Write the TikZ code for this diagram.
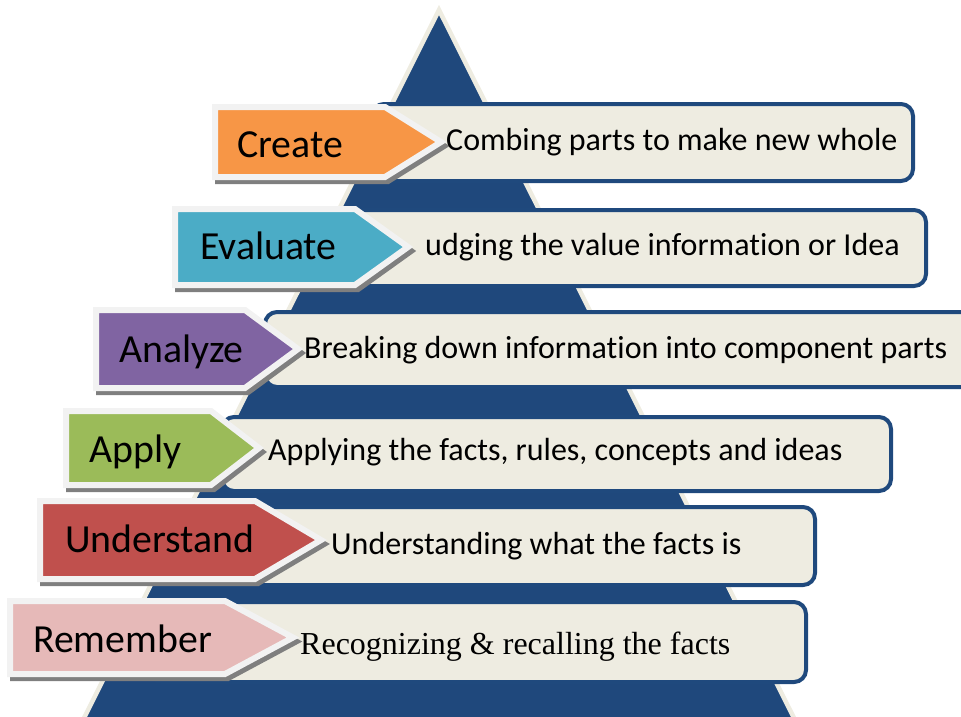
\documentclass[tikz,border=0pt]{standalone}
\usepackage{fontspec}
\setmainfont{Carlito}[Ligatures=NoCommon]
\newfontfamily\timesf{Liberation Serif}
\definecolor{pyrblue}{HTML}{1F487C}
\definecolor{beige}{HTML}{EEECE1}
\definecolor{boxblue}{HTML}{1F497D}
\definecolor{arrline}{HTML}{F2F2F2}
\definecolor{shadowgray}{HTML}{7F7F7F}
\definecolor{cCreate}{HTML}{F79646}
\definecolor{cEval}{HTML}{4BACC6}
\definecolor{cAnal}{HTML}{8064A2}
\definecolor{cApply}{HTML}{9BBB59}
\definecolor{cUnder}{HTML}{C0504D}
\definecolor{cRemem}{HTML}{E6B9B8}
\tikzset{
  pyramid/.style={fill=pyrblue, draw=beige, line width=4.5pt, line join=miter},
  descbox/.style={fill=beige, draw=boxblue, line width=4pt, rounded corners=12pt},
  arrshadow/.style={fill=shadowgray, draw=shadowgray, line width=6pt, line join=miter},
  arrbody/.style={draw=arrline, line width=6pt, line join=miter},
  lbl/.style={anchor=base west, inner sep=0pt, font=\fontsize{39.8}{44}\selectfont},
  desc/.style={anchor=base west, inner sep=0pt, font=\fontsize{32}{36}\selectfont},
}
% #1 left, #2 top, #3 bottom, #4 shoulder, #5 tip, #6 colour
\newcommand{\tagarrow}[6]{%
  \path[arrshadow] (#1+3,#2+4) -- (#4+3,#2+4) -- (#5+3,{(#2+#3)/2+4}) -- (#4+3,#3+4) -- (#1+3,#3+4) -- cycle;
  \path[arrbody, fill=#6] (#1,#2) -- (#4,#2) -- (#5,{(#2+#3)/2}) -- (#4,#3) -- (#1,#3) -- cycle;
}
\begin{document}
\begin{tikzpicture}[x=1pt,y=-1pt]
\useasboundingbox (0,0) rectangle (961,716);
% pyramid
\path[pyramid] (439,10) coordinate (apex) -- (82,722) coordinate (bl) -- (796,722) coordinate (br) -- cycle;
% description boxes
\path[descbox] (372,104) rectangle (913,181);
\path[descbox] (335,210) rectangle (926,286);
\path[descbox] (265,312) rectangle (985,387);
\path[descbox] (222,417) rectangle (891,491);
\path[descbox] (185,507) rectangle (815,585);
\path[descbox] (150,602) rectangle (806,682);
% arrows
\tagarrow{215}{107}{177}{385}{441}{cCreate}
\tagarrow{175}{209}{285}{355}{408}{cEval}
\tagarrow{96}{310}{388}{245}{298}{cAnal}
\tagarrow{66}{411}{485}{211}{259}{cApply}
\tagarrow{40}{501}{579}{255}{321}{cUnder}
\tagarrow{10}{601}{674}{225}{293}{cRemem}
% labels
\node[lbl] (lcreate) at (237,157) {Create};
\node[lbl] (leval) at (200,259) {Evaluate};
\node[lbl] (lanal) at (119,362) {Analyze};
\node[lbl] (lapply) at (89,462) {Apply};
\node[lbl] (lunder) at (65,552) {Understand};
\node[lbl] (lremem) at (33,652) {Remember};
% descriptions
\node[desc] (dcreate) at (446,150) {Combing parts to make new whole};
\node[desc] (deval) at (425,255) {udging the value information or Idea};
\node[desc] (danal) at (304,358) {Breaking down information into component parts};
\node[desc] (dapply) at (268,460) {Applying the facts, rules, concepts and ideas};
\node[desc] (dunder) at (331,554) {Understanding what the facts is};
\node[desc, font=\timesf\fontsize{32}{36}\selectfont] (dremem) at (300,654) {Recognizing \& recalling the facts};
\end{tikzpicture}
\end{document}
